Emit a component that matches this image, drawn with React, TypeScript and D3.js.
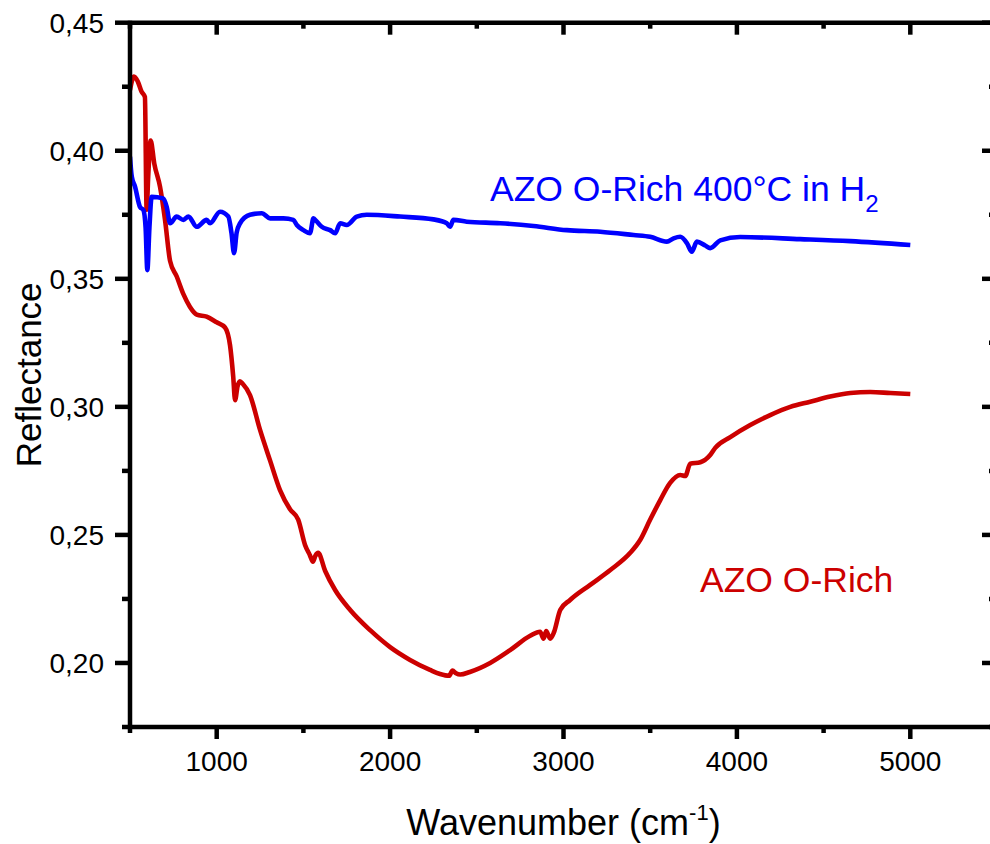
import React, { useEffect, useRef } from 'react';
import * as d3 from 'd3';

// AZO O-Rich (red)
const redWavenumber = [500, 523, 545, 567, 586, 596, 605, 619, 640, 673, 702, 731, 769, 808, 846, 885, 942, 1000, 1048, 1077, 1095, 1106, 1120, 1134, 1150, 1192, 1250, 1308, 1365, 1423, 1470, 1510, 1538, 1555, 1570, 1585, 1625, 1683, 1770, 1885, 2000, 2115, 2230, 2288, 2340, 2360, 2380, 2404, 2460, 2577, 2692, 2808, 2865, 2885, 2900, 2923, 2945, 2981, 3038, 3154, 3270, 3385, 3442, 3500, 3558, 3615, 3673, 3702, 3731, 3789, 3846, 3875, 3962, 4077, 4192, 4308, 4423, 4538, 4654, 4769, 4885, 5000];
const redReflectance = [0.4237, 0.429, 0.427, 0.423, 0.421, 0.377, 0.39, 0.404, 0.395, 0.386, 0.373, 0.357, 0.351, 0.344, 0.339, 0.336, 0.3352, 0.333, 0.331, 0.324, 0.312, 0.3026, 0.308, 0.31, 0.309, 0.3046, 0.291, 0.279, 0.2675, 0.26, 0.256, 0.246, 0.242, 0.2395, 0.242, 0.243, 0.236, 0.2285, 0.2207, 0.2128, 0.2062, 0.2012, 0.1973, 0.1957, 0.195, 0.197, 0.196, 0.1955, 0.1965, 0.2, 0.205, 0.2106, 0.2122, 0.2095, 0.2125, 0.2095, 0.212, 0.2207, 0.2246, 0.2305, 0.2363, 0.243, 0.248, 0.256, 0.2636, 0.2703, 0.2734, 0.273, 0.2778, 0.2784, 0.2812, 0.284, 0.2882, 0.2929, 0.2968, 0.3, 0.302, 0.304, 0.3054, 0.3058, 0.3054, 0.305];

// AZO O-Rich 400°C in H2 (blue)
const blueWavenumber = [500, 510, 529, 558, 577, 590, 600, 612, 625, 692, 712, 731, 769, 808, 837, 885, 942, 962, 1019, 1067, 1085, 1100, 1115, 1135, 1192, 1260, 1308, 1385, 1442, 1462, 1500, 1538, 1558, 1575, 1606, 1654, 1683, 1712, 1750, 1808, 1865, 2058, 2250, 2327, 2346, 2365, 2442, 2635, 2827, 3019, 3212, 3404, 3500, 3596, 3635, 3673, 3712, 3740, 3769, 3817, 3846, 3904, 4019, 4365, 4654, 5000];
const blueReflectance = [0.3977, 0.39, 0.386, 0.378, 0.3769, 0.37, 0.3534, 0.37, 0.382, 0.3814, 0.378, 0.3717, 0.3743, 0.373, 0.3743, 0.3703, 0.373, 0.3717, 0.3762, 0.3743, 0.368, 0.36, 0.368, 0.3717, 0.375, 0.3756, 0.3736, 0.3736, 0.373, 0.371, 0.369, 0.3678, 0.3736, 0.3725, 0.3703, 0.369, 0.3678, 0.3717, 0.371, 0.3743, 0.375, 0.3743, 0.3732, 0.3717, 0.3703, 0.373, 0.3723, 0.3717, 0.3706, 0.369, 0.3684, 0.3671, 0.3664, 0.3645, 0.3658, 0.3664, 0.3639, 0.3606, 0.3645, 0.363, 0.362, 0.365, 0.3663, 0.3655, 0.3647, 0.3632];

const xMajorTicks = [1000, 2000, 3000, 4000, 5000];
const xMinorTicks = [500, 1500, 2500, 3500, 4500, 5500];
const yMajorTicks = [0.2, 0.25, 0.3, 0.35, 0.4, 0.45];
const yMinorTicks = [0.175, 0.225, 0.275, 0.325, 0.375, 0.425];

const FONT = '"Liberation Sans", Arial, sans-serif';

const App = () => {
  const svgRef = useRef<SVGSVGElement>(null);

  useEffect(() => {
    const width = 990;
    const height = 844;
    const svg = d3.select(svgRef.current).attr('width', width).attr('height', height);
    svg.selectAll('*').remove();

    const left = 130, right = 997, top = 22.7, bottom = 727;
    const x = d3.scaleLinear().domain([500, 5500]).range([left, right]);
    const y = d3.scaleLinear().domain([0.175, 0.45]).range([bottom, top]);

    const line = d3.line<[number, number]>()
      .x(d => x(d[0]))
      .y(d => y(d[1]))
      .curve(d3.curveMonotoneX);

    const clip = svg.append('clipPath').attr('id', 'plot-clip');
    clip.append('rect').attr('x', left).attr('y', top).attr('width', right - left).attr('height', bottom - top);

    const plot = svg.append('g').attr('clip-path', 'url(#plot-clip)');

    plot.append('path')
      .datum(redWavenumber.map((w, i) => [w, redReflectance[i]] as [number, number]))
      .attr('d', line)
      .attr('fill', 'none')
      .attr('stroke', '#cc0000')
      .attr('stroke-width', 4.6)
      .attr('stroke-linejoin', 'round');

    plot.append('path')
      .datum(blueWavenumber.map((w, i) => [w, blueReflectance[i]] as [number, number]))
      .attr('d', line)
      .attr('fill', 'none')
      .attr('stroke', '#0000ff')
      .attr('stroke-width', 4.6)
      .attr('stroke-linejoin', 'round');

    // frame and ticks
    const frame = svg.append('g');
    const seg = (x1: number, y1: number, x2: number, y2: number) =>
      frame.append('line')
        .attr('x1', x1).attr('y1', y1).attr('x2', x2).attr('y2', y2)
        .attr('stroke', '#000').attr('stroke-width', 4.5);

    seg(left, top, right, top);
    seg(left, bottom, right, bottom);
    seg(left, top - 2, left, bottom + 2);
    seg(right, top - 2, right, bottom + 2);

    // x ticks: bottom outward, top inward
    xMajorTicks.forEach(t => {
      seg(x(t), bottom, x(t), bottom + 12);
      seg(x(t), top, x(t), top + 12);
    });
    xMinorTicks.forEach(t => {
      seg(x(t), bottom, x(t), bottom + 6);
      seg(x(t), top, x(t), top + 6);
    });
    // y ticks: left outward, right inward
    yMajorTicks.forEach(t => {
      seg(left - 15, y(t), left, y(t));
      seg(right - 15, y(t), right, y(t));
    });
    yMinorTicks.forEach(t => {
      seg(left - 8, y(t), left, y(t));
      seg(right - 8, y(t), right, y(t));
    });

    // tick labels
    const labels = svg.append('g').attr('font-family', FONT).attr('font-size', 28).attr('fill', '#000');
    xMajorTicks.forEach(t => {
      labels.append('text').attr('x', x(t)).attr('y', 771).attr('text-anchor', 'middle').text(String(t));
    });
    yMajorTicks.forEach(t => {
      labels.append('text')
        .attr('x', 104)
        .attr('y', y(t))
        .attr('dy', '0.36em')
        .attr('text-anchor', 'end')
        .text(d3.format('.2f')(t).replace('.', ','));
    });

    // axis titles
    const xt = svg.append('text')
      .attr('x', (left + right) / 2)
      .attr('y', 835)
      .attr('text-anchor', 'middle')
      .attr('font-family', FONT)
      .attr('font-size', 36);
    xt.append('tspan').text('Wavenumber (cm');
    xt.append('tspan').attr('font-size', 22).attr('dy', -15).text('-1');
    xt.append('tspan').attr('dy', 15).text(')');

    svg.append('text')
      .attr('transform', `translate(41,${(top + bottom) / 2}) rotate(-90)`)
      .attr('text-anchor', 'middle')
      .attr('font-family', FONT)
      .attr('font-size', 35)
      .text('Reflectance');

    // curve labels
    const bl = svg.append('text')
      .attr('x', 490)
      .attr('y', 201)
      .attr('font-family', FONT)
      .attr('font-size', 35.5)
      .attr('fill', '#0000ff');
    bl.append('tspan').text('AZO O-Rich 400°C in H');
    bl.append('tspan').attr('font-size', 24).attr('dy', 11).text('2');

    svg.append('text')
      .attr('x', 700)
      .attr('y', 592)
      .attr('font-family', FONT)
      .attr('font-size', 35.5)
      .attr('fill', '#cc0000')
      .text('AZO O-Rich');
  }, []);

  return (
    <svg ref={svgRef} style={{ position: 'absolute', left: 0, top: 0, background: '#fff' }}></svg>
  );
};

export default App;
